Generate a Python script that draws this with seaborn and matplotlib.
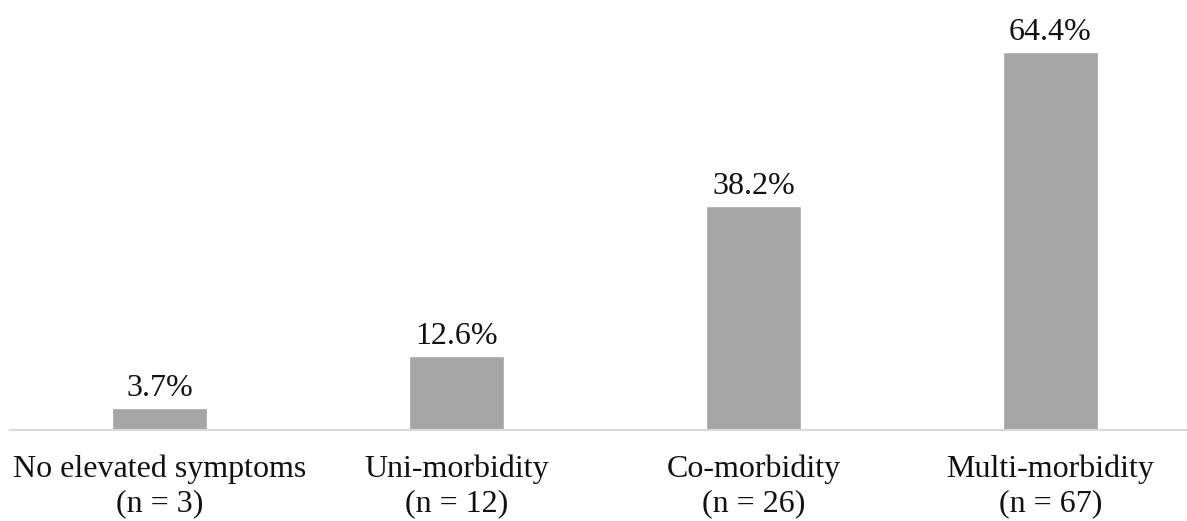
import matplotlib
matplotlib.use("Agg")
import matplotlib.pyplot as plt
import seaborn as sns
import pandas as pd

categories = ["No elevated symptoms\n(n = 3)", "Uni-morbidity\n(n = 12)",
              "Co-morbidity\n(n = 26)", "Multi-morbidity\n(n = 67)"]
values = [3.7, 12.6, 38.2, 64.4]
value_labels = ["3.7%", "12.6%", "38.2%", "64.4%"]

sns.set_style("white")
plt.rcParams['font.family'] = ['Liberation Serif', 'DejaVu Serif']

df = pd.DataFrame({"cat": categories, "val": values})
fig = plt.figure(figsize=(11.87, 5.21), dpi=100)
ax = fig.add_axes([10/1187, 91/521, 1177/1187, 430/521])
sns.barplot(data=df, x="cat", y="val", color="#a5a5a5", saturation=1,
            width=0.32, ax=ax)
ax.set_xlim(-0.505, 3.46)
ax.set_ylim(0, 73.3)
for i, (v, t) in enumerate(zip(values, value_labels)):
    ax.annotate(t, (i, v), xytext=(0, 3.5), textcoords="offset points",
                ha="center", va="bottom", fontsize=23, color="#111111")
for s in ["top", "right", "left"]:
    ax.spines[s].set_visible(False)
ax.spines["bottom"].set_color("#d9d9d9")
ax.spines["bottom"].set_linewidth(1.5)
ax.set_yticks([])
ax.set_xlabel("")
ax.set_ylabel("")
ax.tick_params(axis="x", length=0, labelsize=23, pad=18, colors="#111111")
for lbl in ax.get_xticklabels():
    lbl.set_linespacing(1.22)
fig.savefig("out.png", dpi=100)
